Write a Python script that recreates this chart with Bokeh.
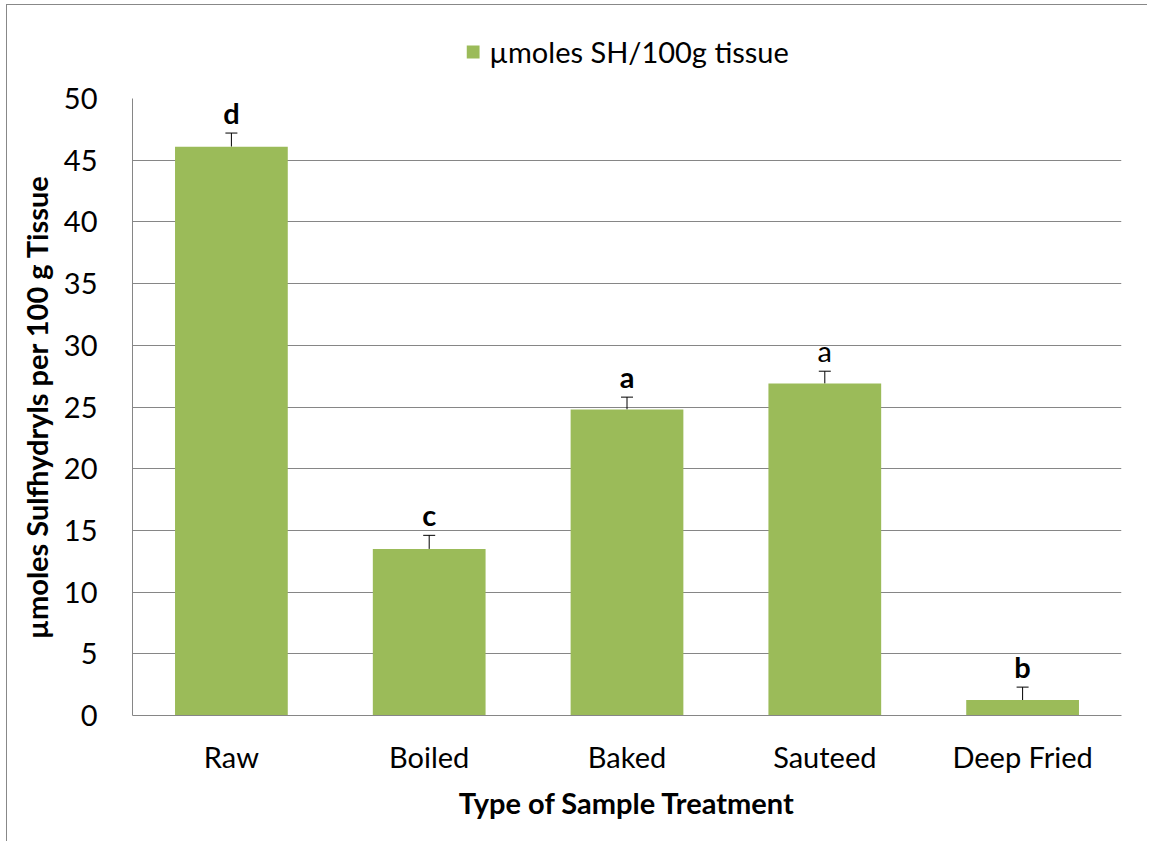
from bokeh.plotting import figure
from bokeh.layouts import column
from bokeh.models import (ColumnDataSource, Whisker, TeeHead, Legend, LegendItem, FactorRange,
                          SingleIntervalTicker, Range1d)
from bokeh.embed import file_html
from bokeh.resources import INLINE
from bokeh.core.properties import value

# ---- data ----
treatments = ["Raw", "Boiled", "Baked", "Sauteed", "Deep Fried"]
sh_values = [46.1, 13.5, 24.8, 26.9, 1.25]
sh_errors = [1.1, 1.1, 1.0, 1.0, 1.05]
sig_letters = ["d", "c", "a", "a", "b"]
letter_weights = ["bold", "bold", "bold", "normal", "bold"]
series_name = "\u00b5moles SH/100g tissue"
y_title = "\u00b5moles Sulfhydryls per 100 g Tissue"
x_title = "Type of Sample Treatment"

FONT = "Lato"
FS = "29px"
GREEN = "#9BBB59"
GRAY = "#868686"
W = 1140
ML, MR = 125, 26

src = ColumnDataSource(dict(
    x=treatments,
    top=sh_values,
    upper=[v + e for v, e in zip(sh_values, sh_errors)],
    letters=sig_letters,
    weights=letter_weights,
))

# ---- legend strip on top ----
lf = figure(width=W, height=70, x_range=Range1d(0, 1), y_range=Range1d(0, 1),
            output_backend="svg", toolbar_location=None,
            min_border_left=ML - 16, min_border_right=MR, min_border_top=22, min_border_bottom=0)
lf.axis.visible = False
lf.grid.visible = False
lf.outline_line_color = None
# zero-height swatch carrier (only its legend glyph is shown)
lr = lf.vbar(x=[0.5], top=[0], bottom=[0], width=0, fill_color=GREEN, line_color=None)
legend = Legend(items=[LegendItem(label=series_name, renderers=[lr])],
                location="center", orientation="horizontal",
                border_line_color=None, background_fill_alpha=0,
                padding=0, margin=0, glyph_width=16, glyph_height=16, label_standoff=9,
                label_text_font=FONT, label_text_font_size=FS, label_text_color="black")
lf.add_layout(legend, "center")

# ---- main chart ----
p = figure(
    x_range=FactorRange(*treatments, range_padding=0),
    y_range=(0, 50),
    width=W, height=766,
    output_backend="svg", toolbar_location=None,
    min_border_left=ML, min_border_top=23, min_border_right=MR, min_border_bottom=126,
)
p.outline_line_color = None
p.background_fill_color = "white"

bars = p.vbar(x="x", top="top", width=0.57, source=src, fill_color=GREEN, line_color=None)

w = Whisker(source=src, base="x", lower="top", upper="upper", line_color="black", line_width=1,
            lower_head=None, upper_head=TeeHead(size=12, line_color="black", line_width=1))
p.add_layout(w)

p.text(x="x", y="upper", text="letters", source=src, text_align="center", text_baseline="bottom",
       y_offset=-3, text_font=value(FONT), text_font_size=FS, text_font_style="weights",
       text_color="black")

p.yaxis.ticker = SingleIntervalTicker(interval=5)
p.ygrid.grid_line_color = GRAY
p.ygrid.grid_line_width = 1
p.xgrid.grid_line_color = None

for ax in (p.xaxis[0], p.yaxis[0]):
    ax.axis_line_color = GRAY
    ax.axis_line_width = 1
    ax.major_tick_line_color = None
    ax.minor_tick_line_color = None
    ax.major_label_text_font = FONT
    ax.major_label_text_font_size = FS
    ax.major_label_text_color = "black"
    ax.axis_label_text_font = FONT
    ax.axis_label_text_font_size = FS
    ax.axis_label_text_font_style = "bold"
    ax.axis_label_text_color = "black"

p.yaxis.axis_label = y_title
p.yaxis.major_label_standoff = 29
p.yaxis.axis_label_standoff = 7
p.xaxis.axis_label = x_title
p.xaxis.major_label_standoff = 17
p.xaxis.axis_label_standoff = 8

layout = column(lf, p, spacing=0,
                styles={"border-left": "1px solid #888888", "border-top": "1px solid #888888",
                        "margin-left": "6px", "margin-top": "4px"})

open("out.html", "w").write(file_html(layout, INLINE))
